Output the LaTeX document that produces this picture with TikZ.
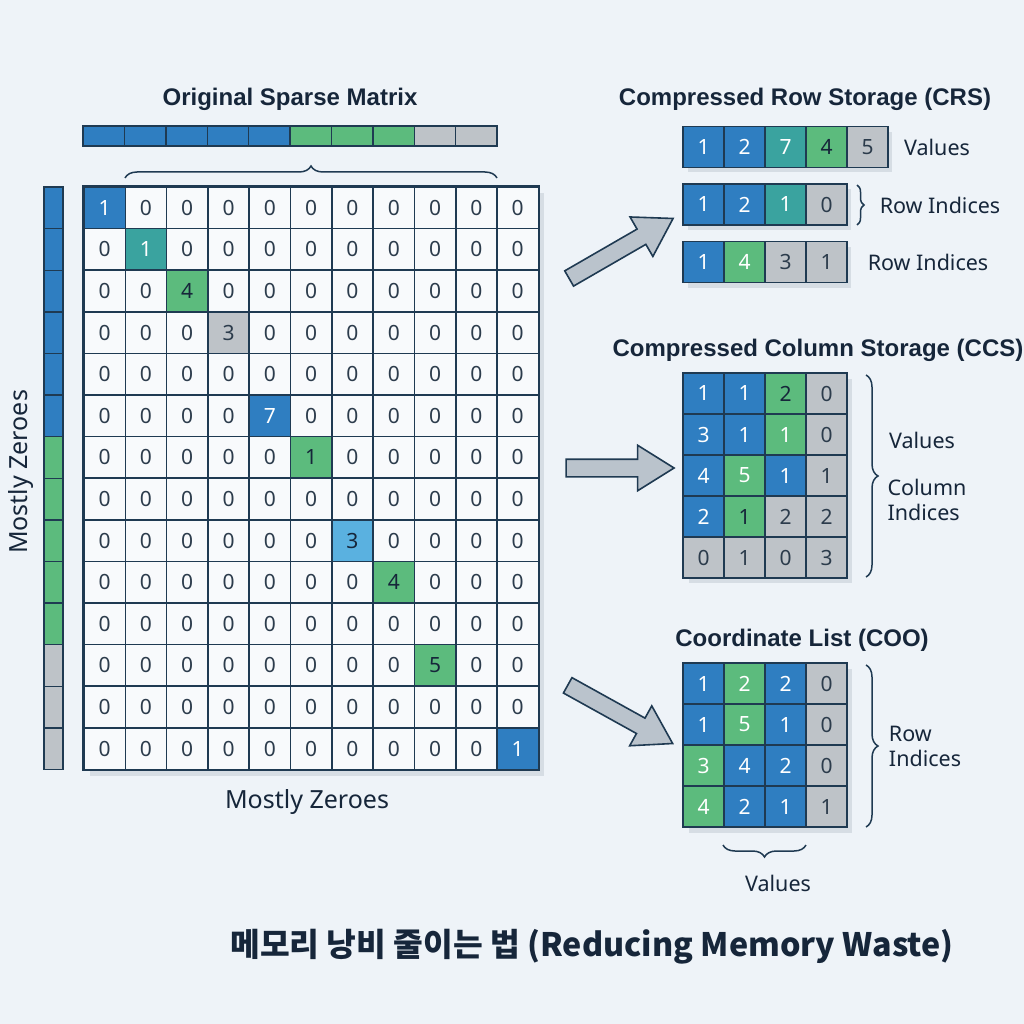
\documentclass[tikz,border=0pt]{standalone}
\usepackage{fontspec}
\setmainfont{Noto Sans}
\newfontfamily\tfont{Liberation Sans}
\newfontfamily\krfont{Noto Sans CJK KR}
\usetikzlibrary{shapes.arrows,decorations.pathreplacing}
\definecolor{bgc}{HTML}{EEF3F8}
\definecolor{bord}{HTML}{1F3A52}
\definecolor{cblue}{HTML}{2F7EC1}
\definecolor{cteal}{HTML}{3AA39F}
\definecolor{cgreen}{HTML}{5CBB7D}
\definecolor{cgray}{HTML}{BEC3C8}
\definecolor{clblue}{HTML}{5AB1E0}
\definecolor{cwhite}{HTML}{F8FAFC}
\definecolor{tdark}{HTML}{16263A}
\definecolor{tcell}{HTML}{2C3C4C}
\definecolor{shad}{HTML}{D6DDE4}
\definecolor{arrf}{HTML}{BAC3CC}
\tikzset{
  cell/.style={draw=bord,line width=1.6pt,minimum width=41.3pt,minimum height=41.6pt,
    inner sep=0pt,fill=cwhite,text=tcell,font=\fontsize{21}{21}\selectfont},
  scell/.style={cell,minimum width=41pt,minimum height=41pt},
  zero/.style={},
  bluec/.style={fill=cblue,text=white},
  tealc/.style={fill=cteal,text=white},
  greenc/.style={fill=cgreen,text=tdark},
  greenw/.style={fill=cgreen,text=white},
  grayc/.style={fill=cgray,text=tcell},
  lbluec/.style={fill=clblue,text=tdark},
  seg/.style={draw=bord,line width=1.4pt,inner sep=0pt},
  title/.style={font=\tfont\bfseries\fontsize{24}{24}\selectfont,text=tdark},
  lbl/.style={font=\fontsize{21.5}{25}\selectfont,text=tdark},
  mlbl/.style={font=\fontsize{25}{25}\selectfont,text=tdark},
  brc/.style={draw=bord,line width=1.5pt,decorate,decoration={brace,amplitude=#1}},
  barrow/.style={single arrow,draw=bord,line width=1.6pt,fill=arrf,inner sep=8pt,
    single arrow head extend=14pt,single arrow tip angle=64},
}
\makeatletter
\newcommand\nzset[3]{\expandafter\def\csname nzv@#1\endcsname{#2}\expandafter\def\csname nzs@#1\endcsname{#3}}
\makeatother
\nzset{1-1}{1}{bluec}
\nzset{2-2}{1}{tealc}
\nzset{3-3}{4}{greenc}
\nzset{4-4}{3}{grayc}
\nzset{6-5}{7}{bluec}
\nzset{7-6}{1}{greenc}
\nzset{9-7}{3}{lbluec}
\nzset{10-8}{4}{greenc}
\nzset{12-9}{5}{greenc}
\nzset{14-11}{1}{bluec}
% storage row: name, x0, ycenter, list style/value
\newcommand\srow[4]{%
  \foreach \s/\v [count=\i] in {#4} {%
    \edef\tmp{\noexpand\node[scell,\s] (#1-\i) at ({#2+(\i-0.5)*41},#3) {\v};}\tmp
  }}
\begin{document}
\begin{tikzpicture}[x=1pt,y=-1pt]
\useasboundingbox (0,0) rectangle (1024,1024);
\fill[bgc] (0,0) rectangle (1024,1024);

% titles
\node[title] (t-orig) at (290,99) {Original Sparse Matrix};
\node[title] (t-crs) at (805,99) {Compressed Row Storage (CRS)};
\node[title] (t-ccs) at (818,350) {Compressed Column Storage (CCS)};
\node[title] (t-coo) at (802,640) {Coordinate List (COO)};

% top bar
\foreach \c/\col in {1/cblue,2/cblue,3/cblue,4/cblue,5/cblue,6/cgreen,7/cgreen,8/cgreen,9/cgray,10/cgray}
  \node[seg,fill=\col,minimum width=41.4pt,minimum height=20pt] (tb-\c) at ({83+(\c-0.5)*41.4},136) {};
\draw[brc=12pt] (125,178) -- (497,178);

% left bar
\foreach \r/\col in {1/cblue,2/cblue,3/cblue,4/cblue,5/cblue,6/cblue,7/cgreen,8/cgreen,9/cgreen,10/cgreen,11/cgreen,12/cgray,13/cgray,14/cgray}
  \node[seg,fill=\col,minimum width=19pt,minimum height=41.6pt] (lb-\r) at (53.5,{187+(\r-0.5)*41.6}) {};

% matrix shadow
\fill[shad] (90,193) rectangle (544,776);
% matrix
\foreach \r in {1,...,14}{\foreach \c in {1,...,11}{%
  \ifcsname nzv@\r-\c\endcsname
    \edef\v{\csname nzv@\r-\c\endcsname}\edef\st{\csname nzs@\r-\c\endcsname}%
  \else\def\v{0}\def\st{zero}\fi
  \edef\tmp{\noexpand\node[cell,\st] (m-\r-\c) at ({84+(\c-0.5)*41.3},{187+(\r-0.5)*41.6}) {\v};}\tmp
}}
\draw[bord,line width=2.4pt] (m-1-1.north west) rectangle (m-14-11.south east);

\node[mlbl] (mz-b) at (307,802) {Mostly Zeroes};
\node[mlbl,rotate=90] (mz-l) at (21,472) {Mostly Zeroes};

% arrows
\node[barrow,minimum width=44pt,minimum height=120pt,rotate=30] (a1) at (615,252) {};
\node[barrow,minimum width=44pt,minimum height=108pt] (a2) at (613,468) {};
\node[barrow,minimum width=44pt,minimum height=120pt,rotate=-29] (a3) at (614,711) {};

% CRS
\fill[shad] (688,132) rectangle (892,172);
\fill[shad] (688,189) rectangle (851,230);
\fill[shad] (688,247) rectangle (851,288);
\srow{crs1}{683}{147}{bluec/1,bluec/2,tealc/7,greenc/4,grayc/5}
\srow{crs2}{683}{204.5}{bluec/1,bluec/2,tealc/1,grayc/0}
\srow{crs3}{683}{262}{bluec/1,greenw/4,grayc/3,grayc/1}
\node[lbl] (crs-v) at (937,147) {Values};
\draw[brc=7pt] (857,185) -- (857,225);
\node[lbl] (crs-r1) at (940,205) {Row Indices};
\node[lbl] (crs-r2) at (928,262) {Row Indices};

% CCS
\fill[shad] (689,379) rectangle (852,583);
\srow{ccs1}{683}{393.5}{bluec/1,bluec/1,greenc/2,grayc/0}
\srow{ccs2}{683}{434.5}{bluec/3,bluec/1,greenw/1,grayc/0}
\srow{ccs3}{683}{475.5}{bluec/4,greenw/5,bluec/1,grayc/1}
\srow{ccs4}{683}{516.5}{bluec/2,greenc/1,grayc/2,grayc/2}
\srow{ccs5}{683}{557.5}{grayc/0,grayc/1,grayc/0,grayc/3}
\draw[brc=12pt] (866,375) -- (866,577);
\node[lbl] (ccs-v) at (922,440) {Values};
\node[lbl,align=left] (ccs-c) at (927,500) {Column\\Indices};

% COO
\fill[shad] (689,669) rectangle (852,833);
\srow{coo1}{683}{683.5}{bluec/1,greenw/2,bluec/2,grayc/0}
\srow{coo2}{683}{724.5}{bluec/1,greenw/5,bluec/1,grayc/0}
\srow{coo3}{683}{765.5}{greenw/3,bluec/4,bluec/2,grayc/0}
\srow{coo4}{683}{806.5}{greenw/4,bluec/2,bluec/1,grayc/1}
\draw[brc=12pt] (866,665) -- (866,827);
\node[lbl,align=left] (coo-r) at (925,746) {Row\\Indices};
\draw[brc=12pt] (806,845) -- (723,845);
\node[lbl] (coo-v) at (778,883) {Values};

% bottom title
\node[font=\krfont\bfseries\fontsize{32.3}{33}\selectfont,text=tdark] (main) at (592,947) {메모리 낭비 줄이는 법 (Reducing Memory Waste)};
\end{tikzpicture}
\end{document}
